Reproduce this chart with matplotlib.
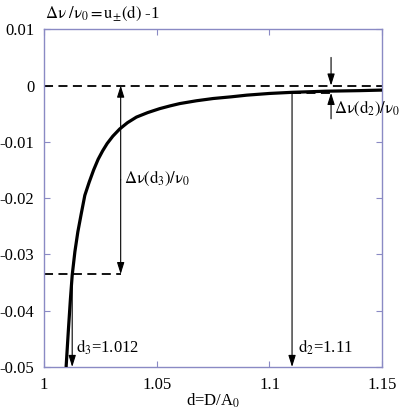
import matplotlib
matplotlib.use("Agg")
import matplotlib.pyplot as plt

plt.rcParams['font.family'] = ['Liberation Serif', 'DejaVu Serif']
plt.rcParams['mathtext.fontset'] = 'stix'

# curve u(d)-1
d_vals = [1.0098, 1.0108, 1.0117, 1.0125, 1.0137, 1.0150, 1.0165, 1.0181, 1.0200,
          1.0220, 1.0240, 1.0260, 1.0280, 1.0305, 1.0336, 1.0370, 1.0410, 1.0460,
          1.0513, 1.0560, 1.0602, 1.0676, 1.0750, 1.0830, 1.0900, 1.1000, 1.1100,
          1.1250, 1.1400, 1.1500]
u_vals = [-0.0500, -0.0435, -0.0380, -0.0337, -0.0295, -0.0260, -0.0228, -0.0195, -0.0172,
          -0.0150, -0.0131, -0.0116, -0.0103, -0.0090, -0.0077, -0.0066, -0.0056, -0.0048,
          -0.0041, -0.0036, -0.0032, -0.0027, -0.0023, -0.0020, -0.0017, -0.0014, -0.0012,
          -0.0010, -0.0009, -0.0008]

d3 = 1.012
d3_level = -0.0335
d2 = 1.11
d2_level = -0.0013
x_ticks = [1, 1.05, 1.1, 1.15]
x_ticklabels = ['1', '1.05', '1.1', '1.15']
y_ticks = [0.01, 0, -0.01, -0.02, -0.03, -0.04, -0.05]
y_ticklabels = ['0.01', '0', '-0.01', '-0.02', '-0.03', '-0.04', '-0.05']

spine_col = '#8a8ac4'

fig = plt.figure(figsize=(3.99, 4.09), dpi=100)
ax = fig.add_axes([0.1103, 0.1027, 0.958 - 0.1103, 0.9284 - 0.1027])
ax.set_xlim(1, 1.15)
ax.set_ylim(-0.05, 0.01)

ax.plot(d_vals, u_vals, color='black', lw=2.3, solid_capstyle='butt',
        solid_joinstyle='round', zorder=5)

dash = (0, (5, 3))
ax.plot([1, 1.15], [0, 0], color='black', lw=1.3, linestyle=dash)
ax.plot([1, 1.034], [d3_level, d3_level], color='black', lw=1.3, linestyle=dash)
ax.plot([d2, 1.1273], [d2_level, d2_level], color='black', lw=1.3, linestyle=dash)

aprops = dict(arrowstyle='-|>,head_length=0.7,head_width=0.22', color='black',
              lw=0.8, shrinkA=0, shrinkB=0)
def arrow(x0, y0, x1, y1):
    ax.annotate('', xy=(x1, y1), xytext=(x0, y0), arrowprops=aprops, annotation_clip=False)

arrow(1.034, d3_level / 2, 1.034, 0)
arrow(1.034, d3_level / 2, 1.034, d3_level)
arrow(d3 + 0.0005, d3_level, d3 + 0.0005, -0.05)
arrow(d2, d2_level, d2, -0.05)
arrow(1.1273, 0.005, 1.1273, 0)
arrow(1.1273, -0.0059, 1.1273, d2_level)

fs = 12
ax.text(1.0355, -0.0165, r'$\mathrm{\Delta\nu(d_3)/\nu_0}$', fontsize=fs, va='center', ha='left')
ax.text(1.1285, -0.0040, r'$\mathrm{\Delta\nu(d_2)/\nu_0}$', fontsize=fs, va='center', ha='left', clip_on=False)
ax.text(1.0143, -0.0465, r'$\mathrm{d_3}$=1.012', fontsize=fs, va='center', ha='left')
ax.text(1.1125, -0.0465, r'$\mathrm{d_2}$=1.11', fontsize=fs, va='center', ha='left')

ax.set_xticks(x_ticks)
ax.set_xticklabels(x_ticklabels, fontsize=fs)
ax.set_yticks(y_ticks)
ax.set_yticklabels(y_ticklabels, fontsize=fs)
ax.tick_params(direction='in', length=4, width=0.8, color=spine_col, top=True, right=True, pad=7)
for s in ax.spines.values():
    s.set_color(spine_col)
    s.set_linewidth(1.0)

ax.set_xlabel(r'd=D/A$\mathrm{_0}$', fontsize=fs, labelpad=-1)
fig.text(45 / 399, 1 - 13 / 409, r'$\mathrm{\Delta\nu\ /\nu_0 = u_{\pm}(d)\ }$-1',
         fontsize=fs, va='center', ha='left')

fig.savefig('out.png', dpi=100)
